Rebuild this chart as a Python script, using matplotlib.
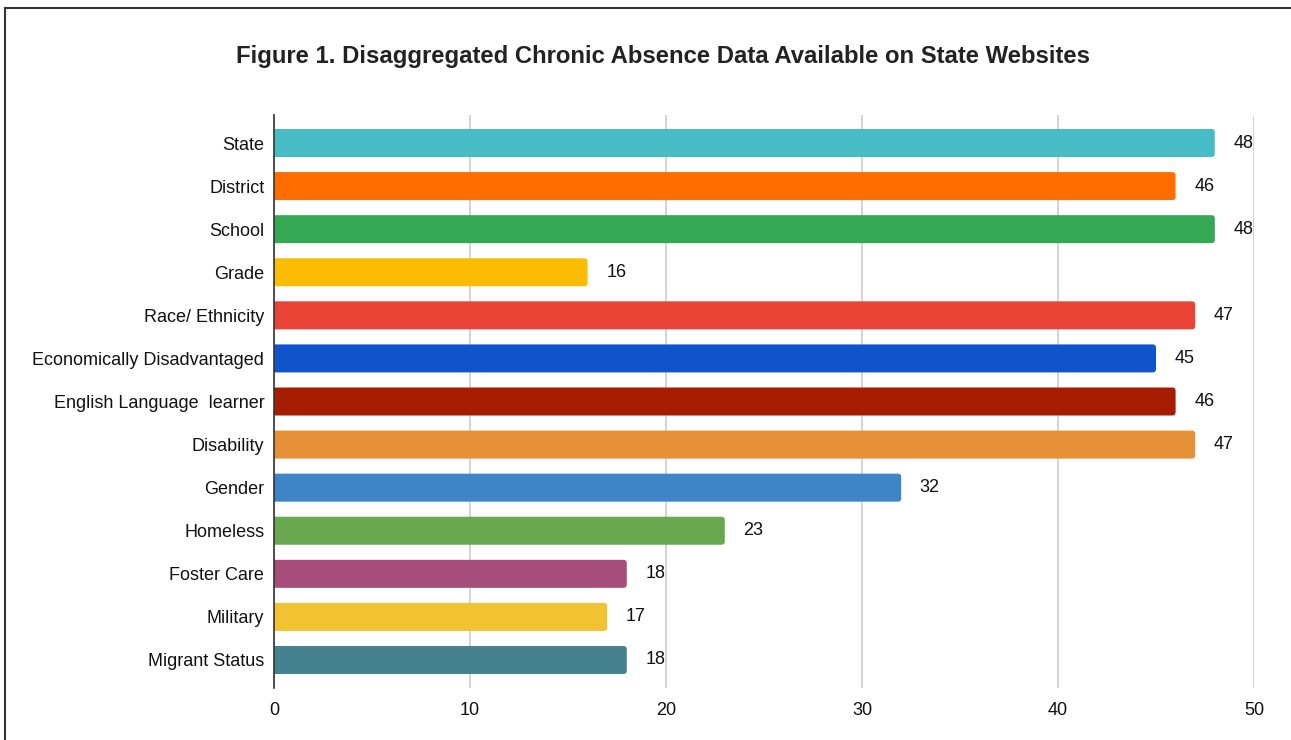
import matplotlib
matplotlib.use("Agg")
import matplotlib.pyplot as plt
from matplotlib.patches import FancyBboxPatch
from matplotlib.lines import Line2D

categories = ["State", "District", "School", "Grade", "Race/ Ethnicity",
              "Economically Disadvantaged", "English Language  learner",
              "Disability", "Gender", "Homeless", "Foster Care", "Military",
              "Migrant Status"]
values = [48, 46, 48, 16, 47, 45, 46, 47, 32, 23, 18, 17, 18]
colors = ["#47BCC4", "#FF6D00", "#34A853", "#FBBC04", "#EA4335", "#1155CC",
          "#A61C00", "#E69138", "#3D85C6", "#6AA84F", "#A64D79", "#F1C232",
          "#45818E"]
xticks = [0, 10, 20, 30, 40, 50]

plt.rcParams['font.family'] = ['Liberation Sans', 'DejaVu Sans']

fig = plt.figure(figsize=(12.91, 7.40), dpi=100)
ax = fig.add_axes([274/1291, 1 - 688/740, (1254 - 274)/1291, (688 - 115)/740])

ypos = list(range(len(categories)))
bars = ax.barh(ypos, values, height=0.65, color=colors)

# rounded right ends; left ends pushed past the axis and clipped square
for b, c in zip(bars, colors):
    x, y, w, h = b.get_x(), b.get_y(), b.get_width(), b.get_height()
    b.set_visible(False)
    p = FancyBboxPatch((x - 0.5, y), w + 0.5, h,
                       boxstyle="round,pad=0,rounding_size=0.17",
                       mutation_aspect=19.6/43.08,
                       facecolor=c, edgecolor="none", zorder=3)
    ax.add_patch(p)

for yp, v in zip(ypos, values):
    ax.text(v + 0.95, yp, str(v), va="center", ha="left", fontsize=13, color="#111111")

ax.set_xlim(0, 50)
ax.set_ylim(len(categories) - 0.35, -0.65)
ax.set_xticks(xticks)
ax.set_yticks(ypos)
ax.set_yticklabels(categories, fontsize=13, color="#111111")
ax.tick_params(axis="x", labelsize=13, colors="#111111", length=0, pad=10)
ax.tick_params(axis="y", length=0, pad=7)
ax.xaxis.grid(True, color="#CCCCCC", linewidth=1.2)
ax.set_axisbelow(True)
for s in ["top", "right", "bottom"]:
    ax.spines[s].set_visible(False)
ax.spines["left"].set_color("#333333")
ax.spines["left"].set_linewidth(1.2)
ax.spines["left"].set_zorder(4)

fig.text(663.5/1291, 1 - 57/740,
         "Figure 1. Disaggregated Chronic Absence Data Available on State Websites",
         ha="center", va="center", fontsize=17.2, fontweight="bold", color="#222222")

# page frame (left and top edges)
fig.add_artist(Line2D([5/1291, 5/1291], [0, 1 - 8/740], color="#333333", linewidth=1.5))
fig.add_artist(Line2D([5/1291, 1], [1 - 8/740, 1 - 8/740], color="#333333", linewidth=1.5))

fig.savefig("out.png", dpi=100)
